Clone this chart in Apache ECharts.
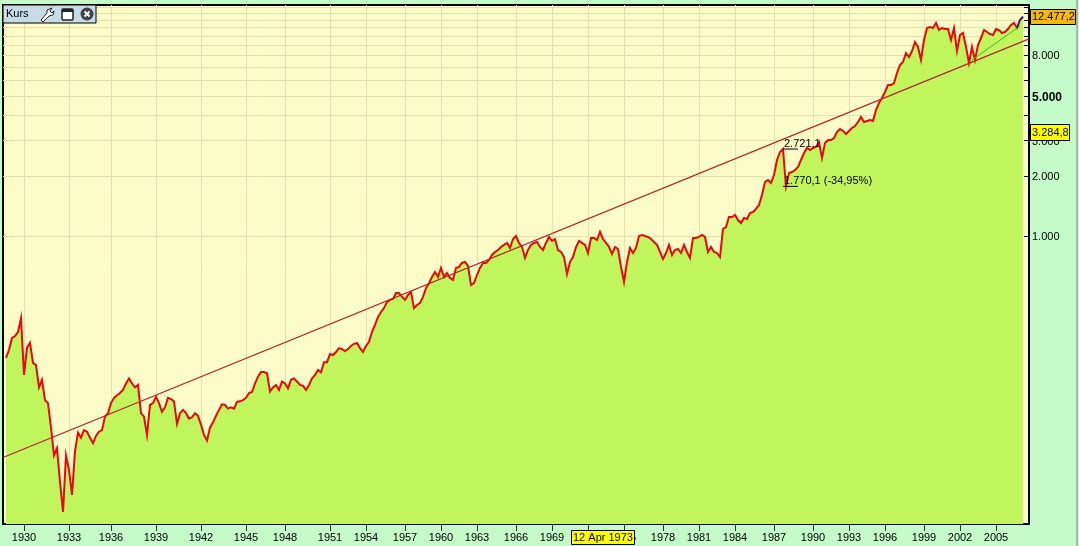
<!DOCTYPE html>
<html>
<head>
<meta charset="utf-8">
<style>html,body{margin:0;padding:0;background:#c5fbc8}#c{width:1079px;height:546px}</style>
<script src="https://cdn.jsdelivr.net/npm/echarts@6/dist/echarts.min.js"></script>
</head>
<body>
<div id="c"></div>
<script>
// Tick labels of the time axis and how many samples each 3-year period holds (trading-time axis)
const tickYears = [1930,1933,1936,1939,1942,1945,1948,1951,1954,1957,1960,1963,1966,1969,1972,1975,1978,1981,1984,1987,1990,1993,1996,1999,2002,2005];
const samplesBeforeFirstTick = 7;
const samplesPerPeriod = [15,14,15,15,15,13,15,12,13,12,12,13,12,12,12,13,12,12,13,13,12,12,13,12,12,11];

// Index level
const closes = [null,
246,269,309,316,331,388,202,276,292,232,226,175,191,151,146,110,80,87,59,41.7,80,67.6,50.7,84,
104,98,107,105,98,92,100,105,107,125,130,146,155,160,164,170,183,194,183,175,180,130,125,101,143,146,
157,146,132,139,155,153,149,115,130,135,130,122,124,130,126,114,101,95,110,117,126,135,144,143,137,139,
137,148,149,151,155,164,166,183,198,209,209,206,167,
175,180,170,187,183,173,191,194,187,180,178,170,180,194,202,214,208,234,234,257,254,263,275,272,266,272,
282,289,292,275,263,282,296,331,359,393,417,436,468,479,485,519,519,496,479,507,525,436,452,462,496,549,
581,624,661,624,692,624,653,617,603,692,700,733,741,708,569,581,638,692,733,733,759,804,832,851,881,902,
923,871,966,1000,923,881,776,851,
902,923,933,881,851,923,989,944,966,851,832,785,646,741,785,881,944,923,902,822,977,977,955,1047,966,923,
881,813,881,861,700,589,741,871,822,871,1000,1012,1000,989,966,933,902,832,767,822,902,804,851,861,822,902,
832,776,977,977,989,1012,989,832,881,832,822,785,1084,1109,1245,1245,1274,1202,1161,1230,1216,1303,1318,
1365,1429,1603,1862,1906,1840,2018,2399,
2630,2721,1770,2065,2089,2138,2214,2399,2600,2754,2692,2754,2786,2951,2454,2917,3020,3020,3090,3311,3428,
3350,3236,3350,3468,3548,3715,3936,3715,3758,3802,3758,4266,4624,4898,5248,5689,5689,5821,6531,7161,7413,
8222,7852,8414,9330,8810,7586,9550,10965,11092,10965,11614,10715,10965,10839,10839,9550,10965,8414,10116,
10351,8810,7328,8810,7586,9016,9772,10715,10471,10233,10116,10839,10715,10351,10471,10839,11350,11614,
10965,12023,12477
];

// Long-term trend (first/last sample), recent support (from the 2003 low), last upswing
const longTrend = [78, 9680];
const supportTrend = [7586, 11220];
const lastSwing = [10965, 12023, 12477];
const swingHigh = 2721.1, swingLow = 1770.1, swingPct = '-34,95%';
const lastPrice = '12.477,2', levelPrice = '3.284,8', cursorDate = '12 Apr 1973';

// Price axis
const priceTicks = [1000,2000,3000,4000,5000,6000,7000,8000,9000,10000,11000,12000,13000,14000];
const priceLabels = {1000:'1.000',2000:'2.000',3000:'3.000',5000:'5.000',8000:'8.000'};
const priceMin = 36.3, priceMax = 14289;

// Build categories
const categories = [];
for (let k = samplesBeforeFirstTick - 1; k >= 0; k--) categories.push('1929+' + k);
tickYears.forEach((y, p) => {
  categories.push(String(y));
  for (let k = 1; k < samplesPerPeriod[p]; k++) categories.push(y + '+' + k);
});
categories.push('2008');
const N = categories.length;
const isTick = (i, v) => tickYears.indexOf(+v) >= 0 && String(+v) === v;

const blank = () => new Array(N).fill(null);
const series0 = blank(); closes.forEach((v, i) => { if (i < N) series0[i] = v; });
const lastIdx = closes.length - 1;
const peakIdx = closes.indexOf(2721);
const longData = blank(); longData[0] = longTrend[0]; longData[N - 1] = longTrend[1];
const supIdx = lastIdx - 17;
const supData = blank(); supData[supIdx] = supportTrend[0]; supData[lastIdx - 1] = supportTrend[1];
const swingData = blank(); lastSwing.forEach((v, k) => { swingData[lastIdx - lastSwing.length + 1 + k] = v; });

const font = 'Liberation Sans, Arial, sans-serif';
function flat(value, text) {
  const d = blank();
  for (let k = 0; k <= 5; k++) d[peakIdx + k] = value;
  d[peakIdx] = { value: value, label: { show: true, formatter: text, position: [1, -11], fontSize: 11, color: '#000', fontFamily: font } };
  return d;
}
const de = (v, d) => { const p = v.toFixed(d).split('.'); return p[0].replace(/\B(?=(\d{3})+$)/g, '.') + ',' + p[1]; };

const chart = echarts.init(document.getElementById('c'), null, { renderer: 'canvas' });
chart.setOption({
  animation: false,
  backgroundColor: '#c5fbc8',
  grid: { left: 3, right: 50, top: 5, bottom: 22, show: true, backgroundColor: '#fbfcc8', borderColor: '#000', borderWidth: 2 },
  xAxis: {
    type: 'category', data: categories, boundaryGap: false,
    axisLine: { show: true, lineStyle: { color: '#000', width: 2 } },
    axisTick: { show: true, interval: isTick, length: 7, lineStyle: { color: '#333', width: 1 } },
    axisLabel: { show: true, interval: isTick, margin: 8, fontSize: 11, color: '#000', fontFamily: font, hideOverlap: false },
    splitLine: { show: true, interval: isTick, lineStyle: { color: '#e4e2b2', width: 1 } }
  },
  yAxis: {
    type: 'log', logBase: 10, position: 'right', min: priceMin, max: priceMax,
    axisLine: { show: true, lineStyle: { color: '#000', width: 2 } },
    axisTick: { show: true, inside: true, length: 5, customValues: priceTicks, lineStyle: { color: '#000', width: 1 } },
    axisLabel: {
      show: true, inside: false, margin: 3, fontSize: 11, color: '#000', fontFamily: font, hideOverlap: false,
      padding: [2, 0, 0, 0],
      customValues: Object.keys(priceLabels).map(Number),
      formatter: v => { const t = priceLabels[Math.round(v)] || ''; return t === '5.000' ? '{b|' + t + '}' : t; },
      rich: { b: { fontSize: 12, fontWeight: 'bold', color: '#000', fontFamily: font } }
    },
    splitLine: { show: true, lineStyle: { color: '#e4e2b2', width: 1 } }
  },
  series: [
    { name: 'Kurs', type: 'line', data: series0, showSymbol: false, symbol: 'none', sampling: null, z: 3,
      lineStyle: { color: '#e8080c', width: 2, join: 'miter' },
      areaStyle: { color: '#c0f55c', opacity: 1, origin: 'start' } },
    { name: 'Trend', type: 'line', data: longData, connectNulls: true, symbol: 'none', z: 4,
      lineStyle: { color: '#b8222a', width: 1.2 } },
    { name: 'Support', type: 'line', data: supData, connectNulls: true, symbol: 'none', z: 4,
      lineStyle: { color: '#45b526', width: 1 } },
    { name: 'Swing', type: 'line', data: swingData, symbol: 'none', z: 5,
      lineStyle: { color: '#1c1c9c', width: 1.4 } },
    { name: 'High', type: 'line', data: flat(swingHigh, de(swingHigh, 1)), symbol: 'circle', symbolSize: 0.01, showSymbol: true, showAllSymbol: true, z: 6,
      itemStyle: { color: '#000' }, lineStyle: { color: '#000', width: 1 } },
    { name: 'Low', type: 'line', data: flat(swingLow, de(swingLow, 1) + ' (' + swingPct + ')'), symbol: 'circle', symbolSize: 0.01, showSymbol: true, showAllSymbol: true, z: 6,
      itemStyle: { color: '#000' }, lineStyle: { color: '#000', width: 1 } }
  ],
  graphic: [
    { type: 'rect', z: 100, shape: { x: 1030.5, y: 9.5, width: 45, height: 15 }, style: { fill: '#f7b80c', stroke: '#000', lineWidth: 1 } },
    { type: 'text', z: 101, x: 1032, y: 11, style: { text: lastPrice, fontSize: 11, fontFamily: font, fill: '#000' } },
    { type: 'rect', z: 100, shape: { x: 1030.5, y: 124.5, width: 39, height: 16 }, style: { fill: '#ffff00', stroke: '#000', lineWidth: 1 } },
    { type: 'text', z: 101, x: 1032, y: 127, style: { text: levelPrice, fontSize: 11, fontFamily: font, fill: '#000' } },
    { type: 'rect', z: 100, shape: { x: 571.5, y: 530.5, width: 63, height: 14 }, style: { fill: '#ffff00', stroke: '#000', lineWidth: 1 } },
    { type: 'text', z: 101, x: 573, y: 532, style: { text: cursorDate, fontSize: 11, fontFamily: font, fill: '#000' } },
    { type: 'line', z: 100, shape: { x1: 1077, y1: 0, x2: 1077, y2: 546 }, style: { stroke: '#b4b4b4', lineWidth: 2 } },
    // panel
    { type: 'rect', z: 100, shape: { x: 3, y: 5, width: 93, height: 18 }, style: { fill: '#c7dde6', stroke: '#000', lineWidth: 1 } },
    { type: 'text', z: 101, x: 6, y: 8, style: { text: 'Kurs', fontSize: 11, fontFamily: font, fill: '#000' } },
    { type: 'polygon', z: 101, shape: { points: [[41,20],[47,13],[47,10],[52,8],[50,11],[52,13],[54,11],[53,15],[49,16],[43,22]] }, style: { fill: '#fff', stroke: '#222', lineWidth: 1 } },
    { type: 'rect', z: 101, shape: { x: 62, y: 9, width: 11, height: 11, r: 1 }, style: { fill: '#fff', stroke: '#222', lineWidth: 1.5 } },
    { type: 'rect', z: 102, shape: { x: 62, y: 9, width: 11, height: 3 }, style: { fill: '#222' } },
    { type: 'circle', z: 101, shape: { cx: 87, cy: 14, r: 6.5 }, style: { fill: '#444' } },
    { type: 'line', z: 102, shape: { x1: 84.5, y1: 11.5, x2: 89.5, y2: 16.5 }, style: { stroke: '#fff', lineWidth: 2 } },
    { type: 'line', z: 102, shape: { x1: 89.5, y1: 11.5, x2: 84.5, y2: 16.5 }, style: { stroke: '#fff', lineWidth: 2 } }
  ]
});
</script>
</body>
</html>
